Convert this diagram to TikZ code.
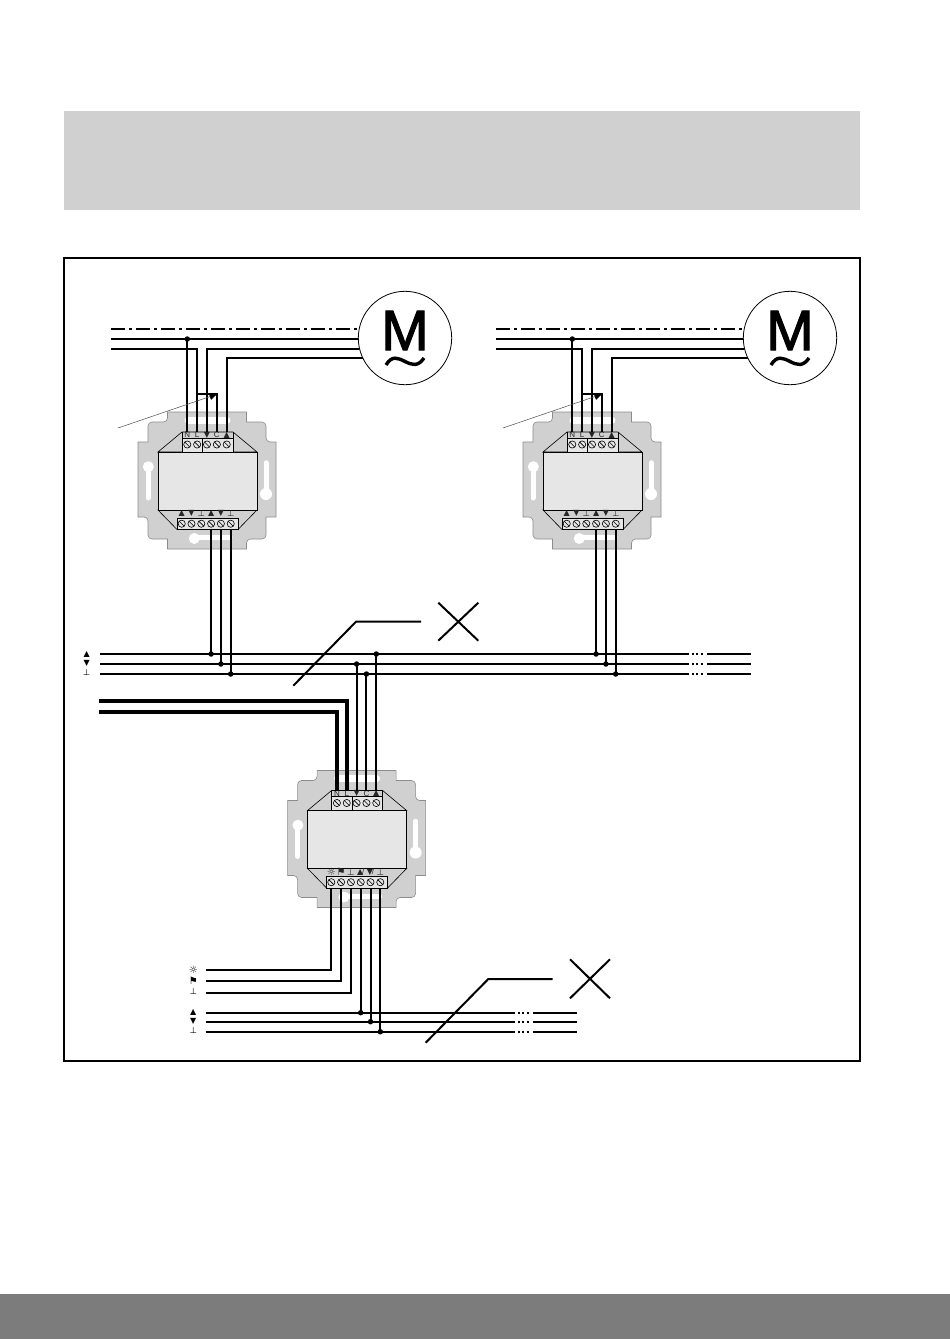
\documentclass[tikz,border=0pt]{standalone}
\usepackage{fontspec}
\setmainfont{Liberation Sans}
\newfontfamily\iconfont{DejaVu Sans}
\newfontfamily\motorfont[FakeBold=2]{Liberation Sans}
\usetikzlibrary{arrows.meta}

\newcommand{\iconup}{{\iconfont ▲}}
\newcommand{\icondown}{{\iconfont ▼}}
\newcommand{\icongnd}{{\iconfont\fontsize{8.5}{9}\selectfont ⊥}}
\newcommand{\iconsun}{{\iconfont\fontsize{10}{10}\selectfont ☼}}
\newcommand{\iconflag}{{\iconfont\fontsize{10}{10}\selectfont ⚑}}

\definecolor{platefill}{HTML}{D0D0D0}
\definecolor{bodyfill}{HTML}{E6E6E6}
\definecolor{footfill}{HTML}{7C7C7C}

\tikzset{
    wire/.style = {line width = 2pt},
    thinwire/.style = {line width = 1.6pt},
    heavywire/.style = {line width = 4pt},
    gapdots/.style = {line width = 1.6pt, dash pattern = on 2pt off 2.4pt},
    neutral/.style = {line width = 1.7pt, dash pattern = on 14pt off 4pt on 3pt off 4pt},
    tap/.style = {circle, fill = black, inner sep = 0pt, minimum size = 5.5pt},
    motor/.style = {circle, draw, fill = white, line width = .8pt, minimum size = 93.4pt, inner sep = 0pt},
    legend/.style = {inner sep = 0pt, font = \fontsize{8}{8}\selectfont},
    termlabel/.style = {inner sep = 0pt, font = \fontsize{8}{8}\selectfont, text = black!85},
    slot/.style = {white, line width = 5pt, line cap = round},
    screwhead/.style = {draw, fill = bodyfill, line width = .6pt},
    pics/socket/.style = {code = {
            % plate
            \draw[fill = platefill, draw = black!45, line width = .6pt]
            (-39.5,-68.5) -- (39.5,-68.5) -- (39.5,-58.5)
            [rounded corners = 4pt] -- (59,-58.5) -- (59,-38.5) [sharp corners]
            -- (69,-38.5) -- (69,36.5) -- (59,36.5)
            [rounded corners = 4pt] -- (59,58.5) -- (39.5,58.5) [sharp corners]
            -- (39.5,68.5) -- (-39.5,68.5) -- (-39.5,58.5)
            [rounded corners = 4pt] -- (-59,58.5) -- (-59,36.5) [sharp corners]
            -- (-69,36.5) -- (-69,-38.5) -- (-59,-38.5)
            [rounded corners = 4pt] -- (-59,-58.5) -- (-39.5,-58.5) [sharp corners]
            -- cycle;
            % slots
            \draw[slot, line width = 7pt] (-19,-60.5) -- (20,-60.5);
            \draw[slot] (-59,-13.5) -- (-59,17.5);
            \fill[white] (-58.7,-13.8) circle (5.5pt);
            \draw[slot] (59,-17.8) -- (59,13.5);
            \fill[white] (59,13.5) circle (6pt);
            \draw[slot] (-12.7,57) -- (23,57);
            \fill[white] (-12.7,58) circle (5.5pt);
            % body
            \draw[fill = platefill, line width = .6pt] (-49,-28.5) -- (-25,-48.5) -- (26,-48.5) -- (50,-28.5) -- cycle;
            \draw[fill = platefill, line width = .6pt] (-49,29.5) -- (-30,49) -- (31,49) -- (50,29.5) -- cycle;
            \draw[fill = bodyfill, line width = .6pt] (-49,-28.5) rectangle (50,29.5);
            % terminal blocks
            \draw[fill = bodyfill, line width = .8pt] (-25,-42.5) rectangle (26,-28.5);
            \draw[line width = .8pt] (-4.5,-42.5) -- (-4.5,-28.5);
            \draw[line width = .8pt] (-25,-48.5) -- (-25,-42.5) (26,-48.5) -- (26,-42.5);
            \draw[fill = bodyfill, line width = .8pt] (-30,37.5) rectangle (31,49);
            \foreach \sym [count = \i] in {N,L,\icondown,C,\iconup} {
                    \coordinate (-t\i) at ({-19.7+9.85*(\i-1)},-48.5);
                    \coordinate (-s\i) at ({-19.7+9.85*(\i-1)},-36);
                    \node[termlabel] (-u\i) at ({-19.7+9.85*(\i-1)},-45.5) {\sym};
                    \draw[screwhead] (-s\i) circle (3.6pt);
                    \draw[line width = .6pt] ([shift = {(-2.5,-2.5)}]-s\i) -- ([shift = {(2.5,2.5)}]-s\i);
                }
            \foreach \sym [count = \i] in {#1} {
                    \coordinate (-b\i) at ({-25.3+9.8*(\i-1)},49);
                    \coordinate (-r\i) at ({-25.3+9.8*(\i-1)},43.2);
                    \node[termlabel] (-v\i) at ({-25.3+9.8*(\i-1)},33.3) {\sym};
                    \draw[screwhead] (-r\i) circle (3.6pt);
                    \draw[line width = .6pt] ([shift = {(-2.5,-2.5)}]-r\i) -- ([shift = {(2.5,2.5)}]-r\i);
                }
        }}
}

\begin{document}
\begin{tikzpicture}[x = 1pt, y = -1pt]

    \useasboundingbox (0,0) rectangle (950,1339);

    % page bands and frame
    \fill[platefill] (64,111) rectangle (860,210);
    \fill[footfill] (0,1294) rectangle (950,1339);
    \draw[line width = 1.8pt] (64,258) rectangle (860,1061);

    % sockets
    \pic (a) at (207,480.5) {socket = {\iconup,\icondown,\icongnd,\iconup,\icondown,\icongnd}};
    \pic (b) at (592,480.5) {socket = {\iconup,\icondown,\icongnd,\iconup,\icondown,\icongnd}};
    \pic (c) at (356.6,839) {socket = {\iconsun,\iconflag,\icongnd,\iconup\kern-1pt/,\icondown\kern-1pt/,\icongnd}};

    % upper bus
    \foreach \y [count = \k] in {654,664,674} {
            \coordinate (upw\k) at (100,\y);
            \coordinate (upl\k) at (689,\y);
            \coordinate (upd\k) at (692,\y);
            \coordinate (upe\k) at (704,\y);
            \coordinate (upr\k) at (707,\y);
            \coordinate (upx\k) at (751,\y);
            \draw[wire] (upw\k) -- (upl\k);
            \draw[gapdots] (upd\k) -- (upe\k);
            \draw[wire] (upr\k) -- (upx\k);
        }
    \node[legend] (upa) at (86.7,654) {\iconup};
    \node[legend] (upb) at (86.7,663.5) {\icondown};
    \node[legend] (upc) at (86.7,673) {\icongnd};

    % motors and mains
    \foreach \n/\dx in {a/0,b/385} {
            \coordinate (m\n) at (405+\dx,338);
            \coordinate (pe\n) at (111+\dx,328.7);
            \coordinate (nn\n) at (111+\dx,339);
            \coordinate (ll\n) at (111+\dx,348.7);
            \coordinate (dn\n) at (405+\dx,348.7);
            \coordinate (up\n) at (405+\dx,358);
            \coordinate (lp\n) at (197+\dx,394);
            \coordinate (tag\n) at (118+\dx,428);
            \coordinate (ptr\n) at (217.5+\dx,394);
            \draw[neutral] (pe\n) -- (pe\n -| m\n);
            \draw[thinwire] (nn\n) -- (nn\n -| m\n);
            \draw[thinwire] (ll\n) -| (\n-t2);
            \draw[wire] (\n-t1) -- (\n-t1 |- nn\n) node[tap] (tn\n) {};
            \draw[wire] (\n-t2) -- (\n-t2 |- lp\n) -| (\n-t4);
            \draw[wire] (\n-t3) |- (dn\n);
            \draw[wire] (\n-t5) |- (up\n);
            \draw[black!70, line width = .5pt, -{Latex[black, length = 8pt, width = 7pt]}] (tag\n) -- (ptr\n);
            \node[motor] (mm\n) at (m\n) {};
            \node[inner sep = 0pt, font = \motorfont\fontsize{57}{57}\selectfont] (mt\n) at (405+\dx,330.5) {M};
            \draw[line width = 3.4pt] (386+\dx,365) .. controls (392+\dx,355) and (398+\dx,358) .. (405+\dx,361.5) .. controls (412+\dx,365) and (418+\dx,367) .. (424+\dx,358);
            % drops to the bus
            \draw[wire] (\n-b4) -- (\n-b4 |- upw1) node[tap] (dp\n1) {};
            \draw[wire] (\n-b5) -- (\n-b5 |- upw2) node[tap] (dp\n2) {};
            \draw[wire] (\n-b6) -- (\n-b6 |- upw3) node[tap] (dp\n3) {};
        }

    % lower socket, top side
    \coordinate (hv1) at (99,701);
    \coordinate (hv2) at (99,712);
    \draw[heavywire] (hv1) -| (c-t2);
    \draw[heavywire] (hv2) -| (c-t1);
    \draw[wire] (c-t3) -- (c-t3 |- upw2) node[tap] (up2) {};
    \draw[wire] (c-t4) -- (c-t4 |- upw3) node[tap] (up3) {};
    \draw[wire] (c-t5) -- (c-t5 |- upw1) node[tap] (up1) {};

    % lower bus
    \foreach \y [count = \k] in {1012.7,1021.7,1031.7} {
            \coordinate (low\k) at (205.7,\y);
            \coordinate (lol\k) at (515,\y);
            \coordinate (lod\k) at (518,\y);
            \coordinate (loe\k) at (530,\y);
            \coordinate (lor\k) at (533,\y);
            \coordinate (lox\k) at (577,\y);
            \draw[wire] (low\k) -- (lol\k);
            \draw[gapdots] (lod\k) -- (loe\k);
            \draw[wire] (lor\k) -- (lox\k);
        }
    \node[legend] (loa) at (193.3,1012.7) {\iconup};
    \node[legend] (lob) at (193.3,1021.7) {\icondown};
    \node[legend] (loc) at (193.3,1031) {\icongnd};

    % lower socket, bottom side
    \coordinate (fa) at (205.7,969.7);
    \coordinate (fb) at (205.7,980.7);
    \coordinate (fc) at (205.7,992.7);
    \node[legend] (fsun) at (193.3,970) {\iconsun};
    \node[legend] (fflag) at (193.3,981) {\iconflag};
    \node[legend] (fgnd) at (193.3,992) {\icongnd};
    \draw[wire] (c-b1) |- (fa);
    \draw[wire] (c-b2) |- (fb);
    \draw[wire] (c-b3) |- (fc);
    \draw[wire] (c-b4) -- (c-b4 |- low1) node[tap] (lo1) {};
    \draw[wire] (c-b5) -- (c-b5 |- low2) node[tap] (lo2) {};
    \draw[wire] (c-b6) -- (c-b6 |- low3) node[tap] (lo3) {};

    % callouts
    \coordinate (caa) at (293.3,685.7);
    \coordinate (cab) at (356,621.7);
    \coordinate (cac) at (421,621.7);
    \draw[wire] (caa) -- (cab) -- (cac);
    \draw[wire] (438.3,602.7) -- (478.3,640.7);
    \draw[wire] (478.3,602.7) -- (438.3,640.7);
    \coordinate (cba) at (425.7,1042.7);
    \coordinate (cbb) at (488.3,979);
    \coordinate (cbc) at (552.7,979);
    \draw[wire] (cba) -- (cbb) -- (cbc);
    \draw[wire] (570,959.3) -- (610,998.3);
    \draw[wire] (610,959.3) -- (570,998.3);

\end{tikzpicture}
\end{document}
